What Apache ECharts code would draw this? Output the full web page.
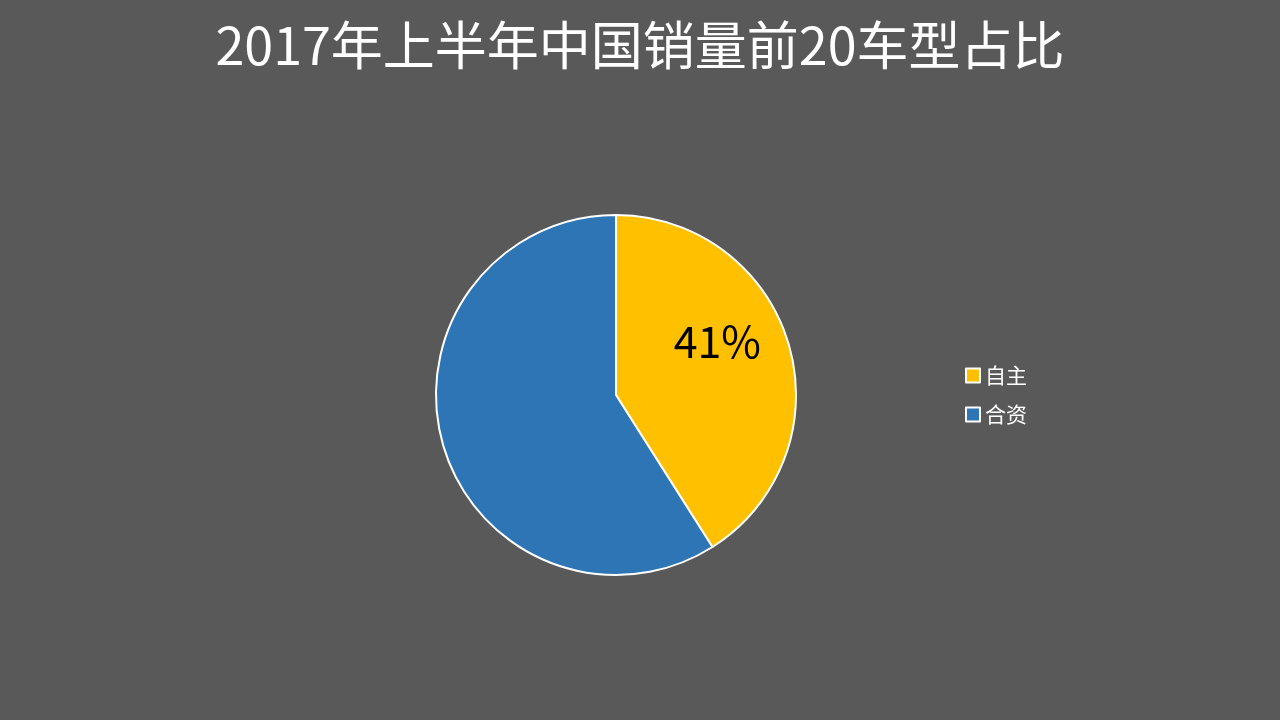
<!DOCTYPE html>
<html>
<head>
<meta charset="utf-8">
<script src="https://cdn.jsdelivr.net/npm/echarts@6/dist/echarts.min.js"></script>
<style>
  html, body { margin: 0; padding: 0; background: #595959; }
  #chart { width: 1280px; height: 720px; }
</style>
</head>
<body>
<div id="chart"></div>
<script>
const categories = ['自主', '合资'];
const shares = [41, 59];
const sliceColors = ['#FFC000', '#2E75B6'];

const chart = echarts.init(document.getElementById('chart'), null, { renderer: 'canvas' });
const font = '"Noto Sans CJK SC", "Noto Sans", sans-serif';

chart.setOption({
  backgroundColor: '#595959',
  title: {
    text: '2017年上半年中国销量前20车型占比',
    left: 'center',
    top: 14,
    textStyle: { color: '#ffffff', fontSize: 52, fontWeight: 'normal', fontFamily: font }
  },
  legend: {
    orient: 'vertical',
    left: 960,
    top: 360,
    itemWidth: 14,
    itemHeight: 14,
    itemGap: 18,
    icon: 'rect',
    itemStyle: { borderColor: '#ffffff', borderWidth: 2 },
    textStyle: { color: '#ffffff', fontSize: 21, fontFamily: font },
    data: categories
  },
  series: [{
    type: 'pie',
    center: [616, 395],
    radius: 180,
    startAngle: 90,
    clockwise: true,
    silent: true,
    itemStyle: { borderColor: '#ffffff', borderWidth: 2 },
    label: { show: false },
    labelLine: { show: false },
    data: categories.map((name, i) => ({
      name,
      value: shares[i],
      itemStyle: { color: sliceColors[i] },
      label: i === 0 ? {
        show: true,
        position: 'inside',
        formatter: '{d}%',
        color: '#000000',
        fontSize: 43,
        fontFamily: font,
        offset: [12, -27]
      } : { show: false }
    }))
  }]
});
</script>
</body>
</html>
